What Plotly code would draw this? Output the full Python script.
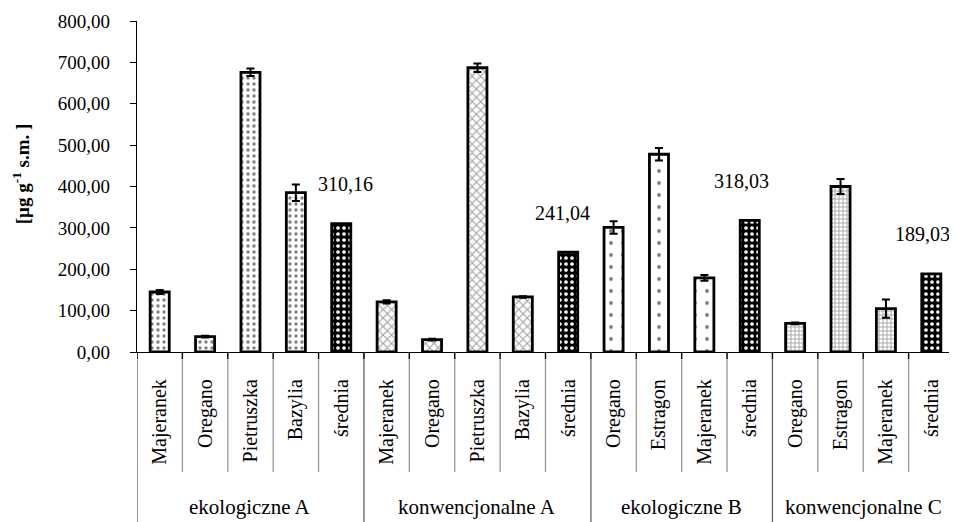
import plotly.graph_objects as go

# ---- data ----
groups = ["ekologiczne A", "konwencjonalne A", "ekologiczne B", "konwencjonalne C"]
cats_ekoA = ["Majeranek", "Oregano", "Pietruszka", "Bazylia", "średnia"]
vals_ekoA = [145, 37, 676, 385, 310.16]
err_ekoA = [5, 2, 9, 20, 0]
cats_konwA = ["Majeranek", "Oregano", "Pietruszka", "Bazylia", "średnia"]
vals_konwA = [121, 30, 687, 133, 241.04]
err_konwA = [4, 2, 10, 2, 0]
cats_ekoB = ["Oregano", "Estragon", "Majeranek", "średnia"]
vals_ekoB = [301, 478, 179, 318.03]
err_ekoB = [15, 15, 7, 0]
cats_konwC = ["Oregano", "Estragon", "Majeranek", "średnia"]
vals_konwC = [69, 400, 105, 189.03]
err_konwC = [2, 18, 22, 0]
y_ticks = [0, 100, 200, 300, 400, 500, 600, 700, 800]

group_data = [
    (cats_ekoA, vals_ekoA, err_ekoA),
    (cats_konwA, vals_konwA, err_konwA),
    (cats_ekoB, vals_ekoB, err_ekoB),
    (cats_konwC, vals_konwC, err_konwC),
]

patterns = [
    dict(shape=".", fgcolor="black", bgcolor="white", size=6, solidity=0.25),
    dict(shape="x", fgcolor="#444444", bgcolor="white", size=6, solidity=0.35),
    dict(shape=".", fgcolor="black", bgcolor="white", size=12, solidity=0.08),
    dict(shape="+", fgcolor="#555555", bgcolor="white", size=4, solidity=0.45),
]
mean_pattern = dict(shape=".", fgcolor="white", bgcolor="black", size=6, solidity=0.3, fillmode="replace")
label_xshift = [4, -6, -8, -9]  # pixel nudges of the mean-value labels

FONT = "Liberation Serif"

fig = go.Figure()
all_cats = []
bounds = [0]
mean_x, mean_y = [], []
idx = 0
for gi, (cats, vals, errs) in enumerate(group_data):
    xs, ys, es = [], [], []
    for c, v, e in zip(cats, vals, errs):
        all_cats.append(c)
        if c == "średnia":
            mean_x.append(idx)
            mean_y.append(v)
        else:
            xs.append(idx); ys.append(v); es.append(e)
        idx += 1
    bounds.append(idx)
    fig.add_trace(go.Bar(
        x=xs, y=ys, width=0.42,
        marker=dict(color="white", line=dict(color="black", width=2.8), pattern=patterns[gi]),
        error_y=dict(type="data", array=es, visible=True, color="black", thickness=2, width=4),
        showlegend=False, hoverinfo="skip",
    ))

fig.add_trace(go.Bar(
    x=mean_x, y=mean_y, width=0.42,
    marker=dict(color="black", line=dict(color="black", width=2.8), pattern=mean_pattern),
    showlegend=False, hoverinfo="skip",
))

n = len(all_cats)
shapes = []
group_bounds = set(bounds)
for k in range(n + 1):
    xb = k - 0.5
    if k in group_bounds:
        shapes.append(dict(type="line", xref="x", yref="paper", x0=xb, x1=xb, y0=0, y1=-0.54,
                           line=dict(color="#606060", width=1.3)))
    else:
        shapes.append(dict(type="line", xref="x", yref="paper", x0=xb, x1=xb, y0=0, y1=-0.3625,
                           line=dict(color="#999999", width=1.3)))
    shapes.append(dict(type="line", xref="x", yref="paper", x0=xb, x1=xb, y0=0, y1=-0.021,
                       line=dict(color="black", width=1.3)))

annotations = []
for gi, g in enumerate(groups):
    annotations.append(dict(text=g, xref="x", yref="paper", x=(bounds[gi] + bounds[gi + 1] - 1) / 2,
                            y=-0.468, showarrow=False, xanchor="center", yanchor="middle",
                            font=dict(family=FONT, size=21, color="black")))
for mx, my, dx in zip(mean_x, mean_y, label_xshift):
    annotations.append(dict(text=f"{my:.2f}".replace(".", ","), xref="x", yref="y", x=mx,
                            y=my + 95, xshift=dx, showarrow=False, xanchor="center", yanchor="middle",
                            font=dict(family=FONT, size=20, color="black")))
annotations.append(dict(text="<b>[µg g<sup>-1</sup> s.m. ]</b>", xref="paper", yref="paper",
                        x=-0.142, y=0.54, textangle=-90, showarrow=False,
                        xanchor="center", yanchor="middle",
                        font=dict(family=FONT, size=19, color="black")))

# page body has an 8px margin, so the figure is offset by 8px
fig.update_layout(
    width=949, height=514,
    margin=dict(l=129, r=3, t=13, b=170),
    plot_bgcolor="white", paper_bgcolor="white",
    separators=", ",
    shapes=shapes, annotations=annotations,
    font=dict(family=FONT, color="black"),
)
fig.update_xaxes(
    range=[-0.5, n - 0.5], tickmode="array", tickvals=list(range(n)), ticktext=all_cats,
    tickangle=-90, ticks="", showline=True, linecolor="black", linewidth=1.3,
    showgrid=False, zeroline=False, ticklabelstandoff=18,
    tickfont=dict(family=FONT, size=20, color="black"),
)
fig.update_yaxes(
    range=[0, 800], tickmode="array", tickvals=y_ticks, tickformat=".2f",
    ticks="outside", ticklen=6, tickwidth=1, tickcolor="black",
    showline=True, linecolor="black", linewidth=1.3, showgrid=False, zeroline=False,
    ticklabelstandoff=16,
    tickfont=dict(family=FONT, size=19, color="black"),
)

fig.write_html("out.html")
